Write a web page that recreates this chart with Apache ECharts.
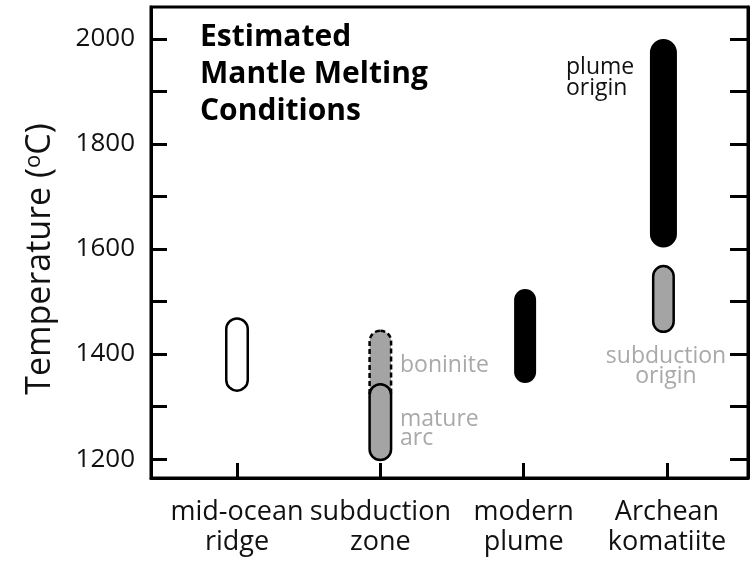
<!DOCTYPE html>
<html>
<head>
<meta charset="utf-8">
<script src="https://cdn.jsdelivr.net/npm/echarts@6/dist/echarts.min.js"></script>
<style>html,body{margin:0;padding:0;background:#fff}#c{width:753px;height:566px}</style>
</head>
<body>
<div id="c"></div>
<script>
// ---- data ----
const categories = ['mid-ocean\nridge', 'subduction\nzone', 'modern\nplume', 'Archean\nkomatiite'];
const yTicks = [1200, 1300, 1400, 1500, 1600, 1700, 1800, 1900, 2000];
const yTickLabels = [1200, 1400, 1600, 1800, 2000];
// [category position, low temperature, high temperature]
const midOceanRidge = [[0, 1328, 1470]];
const boninite = [[1, 1300, 1447]];
const matureArc = [[1, 1196, 1345]];
const modernPlume = [[2.01, 1345, 1524]];
const plumeOrigin = [[2.975, 1603, 2000]];
const subductionOrigin = [[2.975, 1440, 1570]];

const FONT = '"Open Sans", "Noto Sans", sans-serif';
const GREY = '#a4a4a4';
const GREYTXT = '#a9a9a9';

function capsule(w, fill, stroke, lw, dash) {
  return function (params, api) {
    const x = api.value(0), lo = api.value(1), hi = api.value(2);
    const pt = api.coord([x, hi]);
    const pb = api.coord([x, lo]);
    const inset = stroke ? lw / 2 : 0;
    const ww = w - 2 * inset;
    return {
      type: 'rect',
      shape: { x: pt[0] - ww / 2, y: pt[1] + inset, width: ww, height: pb[1] - pt[1] - 2 * inset, r: ww / 2 },
      style: { fill: fill, stroke: stroke || null, lineWidth: stroke ? lw : 0, lineDash: dash || null }
    };
  };
}
function series(name, data, render) {
  return { name: name, type: 'custom', data: data, renderItem: render, encode: { x: 0, y: [1, 2] }, clip: false, silent: true };
}

const chart = echarts.init(document.getElementById('c'), null, { renderer: 'canvas' });
chart.setOption({
  animation: false,
  backgroundColor: '#fff',
  grid: { left: 151, right: 5, top: 7, bottom: 88, show: true, borderColor: '#000', borderWidth: 3, backgroundColor: 'transparent' },
  xAxis: {
    type: 'value', min: -0.6, max: 3.565,
    splitLine: { show: false },
    axisLine: { show: true, onZero: false, lineStyle: { color: '#000', width: 3 } },
    axisTick: { show: true, inside: true, length: 15, customValues: [0, 1, 2, 3], lineStyle: { color: '#000', width: 3 } },
    axisLabel: {
      customValues: [0, 1, 2, 3], margin: 19,
      formatter: v => categories[Math.round(v)],
      fontFamily: FONT, fontSize: 27, color: '#111', lineHeight: 30
    }
  },
  yAxis: [{
    type: 'value', min: 1164, max: 2061, position: 'left',
    splitLine: { show: false },
    axisLine: { show: true, onZero: false, lineStyle: { color: '#000', width: 3 } },
    axisTick: { show: true, inside: true, length: 16, customValues: yTicks, lineStyle: { color: '#000', width: 3 } },
    axisLabel: { customValues: yTickLabels, margin: 16, formatter: v => String(v), fontFamily: FONT, fontSize: 26, color: '#111' }
  }, {
    type: 'value', min: 1164, max: 2061, position: 'right',
    splitLine: { show: false },
    axisLine: { show: true, onZero: false, lineStyle: { color: '#000', width: 3 } },
    axisTick: { show: true, inside: true, length: 18, customValues: yTicks, lineStyle: { color: '#000', width: 3 } },
    axisLabel: { show: false }
  }],
  series: [
    series('mid-ocean ridge', midOceanRidge, capsule(24, '#fff', '#000', 2.5)),
    series('boninite', boninite, capsule(24, GREY, '#000', 2.5, [5, 3])),
    series('mature arc', matureArc, capsule(24, GREY, '#000', 2.5)),
    series('modern plume', modernPlume, capsule(22, '#000', null, 0)),
    series('plume origin', plumeOrigin, capsule(27, '#000', null, 0)),
    series('subduction origin', subductionOrigin, capsule(23, GREY, '#000', 2.5))
  ],
  graphic: [
    { type: 'text', left: 200, top: 19, silent: true,
      style: { text: 'Estimated\nMantle Melting\nConditions', font: 'bold 30px ' + FONT, lineHeight: 37, fill: '#000' } },
    { type: 'text', x: 40, y: 259, rotation: Math.PI / 2, silent: true,
      style: { text: '{a|Temperature (}{b|o}{a|C)}', align: 'center', verticalAlign: 'middle',
        rich: { a: { fontFamily: FONT, fontSize: 34, fill: '#111' }, b: { fontFamily: FONT, fontSize: 22, fill: '#111', verticalAlign: 'top' } } } },
    { type: 'text', x: 400, y: 365, silent: true, style: { text: 'boninite', font: '23px ' + FONT, fill: GREYTXT, verticalAlign: 'middle' } },
    { type: 'text', x: 400, top: 408, silent: true, style: { text: 'mature\narc', font: '23px ' + FONT, fill: GREYTXT, lineHeight: 19 } },
    { type: 'text', x: 666, y: 366, silent: true, style: { text: 'subduction\norigin', font: '23px ' + FONT, fill: GREYTXT, align: 'center', verticalAlign: 'middle', lineHeight: 20 } },
    { type: 'text', x: 566, y: 78, silent: true, style: { text: 'plume\norigin', font: '23px ' + FONT, fill: '#111', verticalAlign: 'middle', lineHeight: 21 } }
  ]
});
</script>
</body>
</html>
